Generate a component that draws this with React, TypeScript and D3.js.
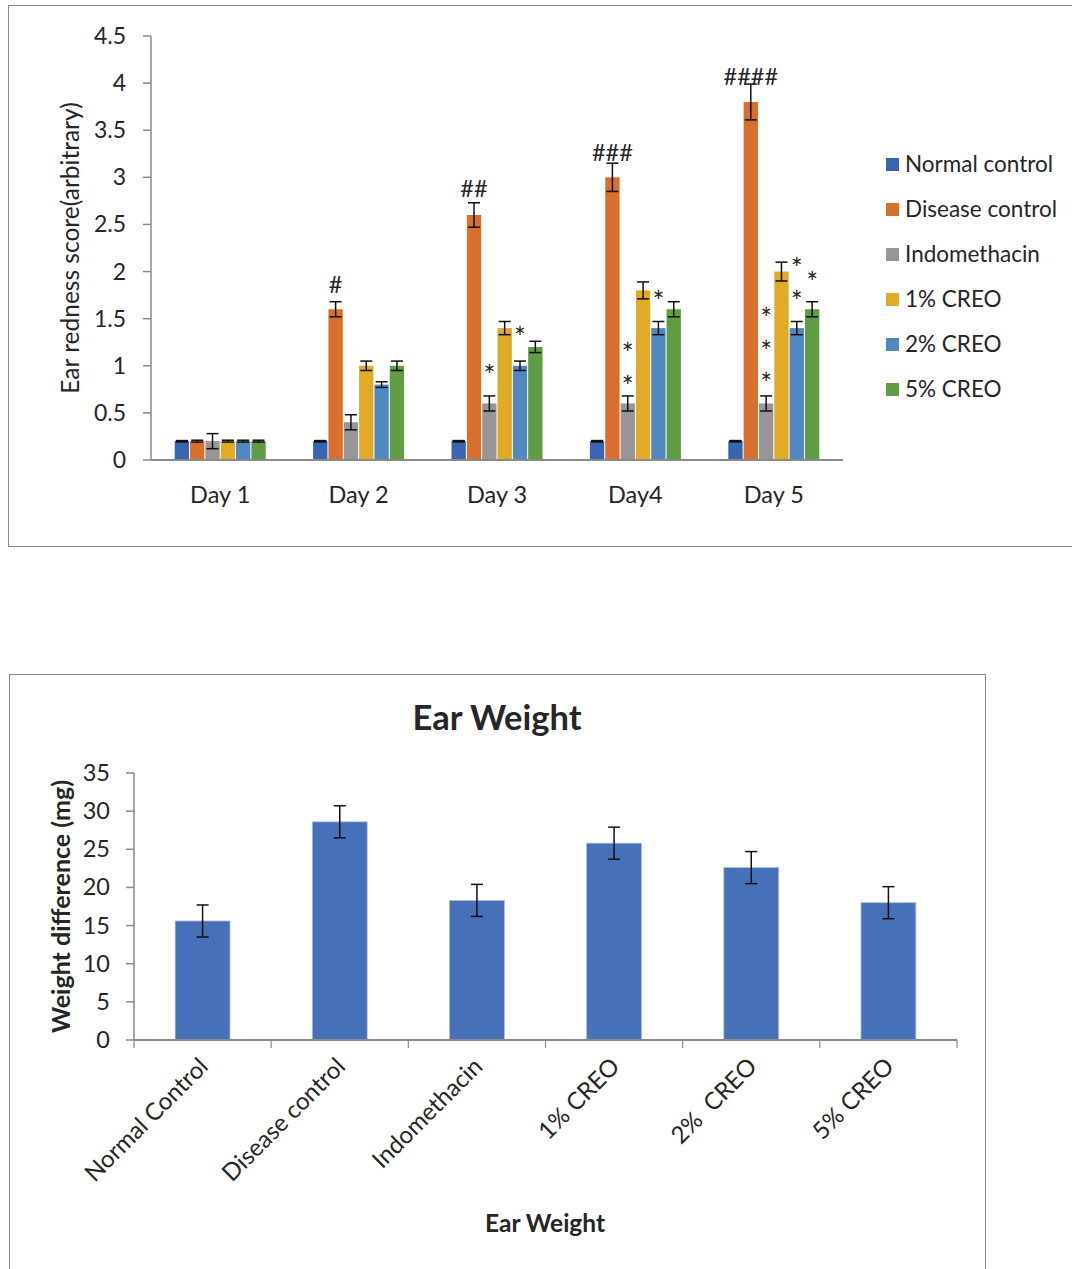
import React from "react";
import * as d3 from "d3";

// ---------- Top chart data ----------
const days = ["Day 1", "Day 2", "Day 3", "Day4", "Day 5"];
const groups = ["Normal control", "Disease control", "Indomethacin", "1% CREO", "2% CREO", "5% CREO"];
const groupColors = ["#3765b1", "#d86f2c", "#969696", "#e1aa27", "#4f89c0", "#609c41"];
const normalControl = [0.2, 0.2, 0.2, 0.2, 0.2];
const diseaseControl = [0.2, 1.6, 2.6, 3.0, 3.8];
const indomethacin = [0.2, 0.4, 0.6, 0.6, 0.6];
const creo1 = [0.2, 1.0, 1.4, 1.8, 2.0];
const creo2 = [0.2, 0.8, 1.0, 1.4, 1.4];
const creo5 = [0.2, 1.0, 1.2, 1.6, 1.6];
const errNormal = [0, 0, 0, 0, 0];
const errDisease = [0.01, 0.08, 0.13, 0.15, 0.19];
const errIndo = [0.08, 0.08, 0.08, 0.08, 0.08];
const err1 = [0.01, 0.05, 0.07, 0.09, 0.1];
const err2 = [0.01, 0.03, 0.05, 0.07, 0.07];
const err5 = [0.01, 0.05, 0.06, 0.08, 0.08];
const redTicks = [0, 0.5, 1, 1.5, 2, 2.5, 3, 3.5, 4, 4.5];
// annotations: [dayIndex, groupIndex, label, y value of label centre]
const hashMarks: [number, number, string, number][] = [
  [1, 1, "#", 1.87],
  [2, 1, "##", 2.89],
  [3, 1, "###", 3.27],
  [4, 1, "####", 4.08],
];
const starMarks: [number, number, number][] = [
  [2, 2, 0.95],
  [2, 4, 1.35],
  [3, 2, 1.18],
  [3, 2, 0.83],
  [3, 4, 1.74],
  [4, 2, 1.55],
  [4, 2, 1.2],
  [4, 2, 0.86],
  [4, 4, 2.09],
  [4, 4, 1.74],
  [4, 5, 1.94],
];

// ---------- Bottom chart data ----------
const weightCats = ["Normal Control", "Disease control", "Indomethacin", "1% CREO", "2%  CREO", "5% CREO"];
const weightVals = [15.6, 28.6, 18.3, 25.8, 22.6, 18.0];
const weightErr = [2.1, 2.1, 2.1, 2.1, 2.1, 2.1];
const weightTicks = [0, 5, 10, 15, 20, 25, 30, 35];

const FONT = "Lato, 'Open Sans', sans-serif";
const TXT = "#262626";
const AX = "#8a8a8a";

export default function App() {
  const series = [normalControl, diseaseControl, indomethacin, creo1, creo2, creo5];
  const errs = [errNormal, errDisease, errIndo, err1, err2, err5];

  // top scales
  const x0 = d3.scaleBand<string>().domain(days).range([151, 843]).padding(0);
  const groupWidth = 92;
  const x1 = d3.scaleBand<string>().domain(groups).range([0, groupWidth]).padding(0);
  const y = d3.scaleLinear().domain([0, 4.5]).range([460, 36]);
  const gx = (di: number) => (x0(days[di]) as number) + x0.bandwidth() / 2 - groupWidth / 2;

  // bottom scales
  const bx = d3.scaleBand<string>().domain(weightCats).range([134, 957]).paddingInner(0.6).paddingOuter(0.3);
  const by = d3.scaleLinear().domain([0, 35]).range([1040, 773]);
  const step = bx.step();

  const cap = 6;

  return (
    <svg width={1072} height={1269} style={{ position: "absolute", left: 0, top: 0, background: "#fff" }} fontFamily={FONT}>
      <rect x={0} y={0} width={1072} height={1269} fill="#fff" />
      {/* ---------- top chart ---------- */}
      <rect x={8.5} y={5.5} width={1070} height={541} fill="none" stroke={AX} strokeWidth={1} />
      {/* y axis */}
      <line x1={151} x2={151} y1={y(4.5)} y2={y(0)} stroke={AX} strokeWidth={1.5} />
      {redTicks.map((t) => (
        <g key={"rt" + t}>
          <line x1={143} x2={151} y1={y(t)} y2={y(t)} stroke={AX} strokeWidth={1.5} />
          <text x={126} y={y(t) + 8} textAnchor="end" fontSize={23} fill={TXT}>{t}</text>
        </g>
      ))}
      <text transform={`translate(79,${y(2.25)}) rotate(-90)`} textAnchor="middle" fontSize={24.5} fill={TXT}>
        Ear redness score(arbitrary)
      </text>
      {/* bars */}
      {days.map((d, di) => (
        <g key={d}>
          {groups.map((g, gi) => {
            const v = series[gi][di];
            const e = errs[gi][di];
            const bx0 = gx(di) + (x1(g) as number);
            const cx = bx0 + x1.bandwidth() / 2;
            return (
              <g key={g}>
                <rect x={bx0 + 0.5} y={y(v)} width={x1.bandwidth() - 1} height={y(0) - y(v)} fill={groupColors[gi]} />
                <line x1={cx} x2={cx} y1={y(v + e)} y2={y(v - e)} stroke="#111" strokeWidth={1.5} />
                <line x1={cx - cap} x2={cx + cap} y1={y(v + e)} y2={y(v + e)} stroke="#111" strokeWidth={e === 0 ? 2.5 : 1.5} />
                <line x1={cx - cap} x2={cx + cap} y1={y(v - e)} y2={y(v - e)} stroke="#111" strokeWidth={e === 0 ? 2.5 : 1.5} />
              </g>
            );
          })}
          <text x={(x0(d) as number) + x0.bandwidth() / 2} y={503} textAnchor="middle" fontSize={23.5} fill={TXT}>{d}</text>
        </g>
      ))}
      <line x1={151} x2={843} y1={y(0)} y2={y(0)} stroke={AX} strokeWidth={2} />
      {hashMarks.map(([di, gi, lab, v], i) => (
        <text key={"h" + i} x={gx(di) + (x1(groups[gi]) as number) + x1.bandwidth() / 2} y={y(v) + 9}
          textAnchor="middle" fontSize={23.5} fill={TXT}>{lab}</text>
      ))}
      {starMarks.map(([di, gi, v], i) => (
        <text key={"s" + i} x={gx(di) + (x1(groups[gi]) as number) + x1.bandwidth() / 2} y={y(v) + 15.5}
          textAnchor="middle" fontSize={28} fill={TXT}>*</text>
      ))}
      {/* legend */}
      {groups.map((g, gi) => (
        <g key={"lg" + g} transform={`translate(886,${164 + gi * 45})`}>
          <rect x={0} y={-6} width={13} height={13} fill={groupColors[gi]} />
          <text x={19} y={8} fontSize={22.5} fill={TXT}>{g}</text>
        </g>
      ))}

      {/* ---------- bottom chart ---------- */}
      <rect x={9.5} y={674.5} width={976} height={620} fill="none" stroke={AX} strokeWidth={1} />
      <text x={497} y={730} textAnchor="middle" fontSize={34.5} fontWeight="bold" fill={TXT}>Ear Weight</text>
      <line x1={134} x2={134} y1={by(35)} y2={by(0)} stroke={AX} strokeWidth={1.5} />
      {weightTicks.map((t) => (
        <g key={"wt" + t}>
          <line x1={126} x2={134} y1={by(t)} y2={by(t)} stroke={AX} strokeWidth={1.5} />
          <text x={110} y={by(t) + 8} textAnchor="end" fontSize={23.5} fill={TXT}>{t}</text>
        </g>
      ))}
      <text transform={`translate(70,${by(17.5)}) rotate(-90)`} textAnchor="middle" fontSize={25} fontWeight="bold" fill={TXT}>
        Weight difference (mg)
      </text>
      {weightCats.map((c, i) => {
        const v = weightVals[i];
        const e = weightErr[i];
        const x = bx(c) as number;
        const cx = x + bx.bandwidth() / 2;
        return (
          <g key={c}>
            <rect x={x} y={by(v)} width={bx.bandwidth()} height={by(0) - by(v)} fill="#4670b8" stroke="#a9bde0" strokeWidth={0.8} />
            <line x1={cx} x2={cx} y1={by(v + e)} y2={by(v - e)} stroke="#111" strokeWidth={1.5} />
            <line x1={cx - 6} x2={cx + 6} y1={by(v + e)} y2={by(v + e)} stroke="#111" strokeWidth={1.5} />
            <line x1={cx - 6} x2={cx + 6} y1={by(v - e)} y2={by(v - e)} stroke="#111" strokeWidth={1.5} />
            <text transform={`translate(${cx + 7},${1068}) rotate(-45)`} textAnchor="end" fontSize={24} fill={TXT}
              style={{ whiteSpace: "pre" }}>{c}</text>
          </g>
        );
      })}
      <line x1={134} x2={957} y1={by(0)} y2={by(0)} stroke={AX} strokeWidth={2} />
      {d3.range(weightCats.length + 1).map((i) => (
        <line key={"xt" + i} x1={134 + i * step} x2={134 + i * step} y1={by(0)} y2={by(0) + 8} stroke={AX} strokeWidth={1.2} />
      ))}
      <text x={545} y={1232} textAnchor="middle" fontSize={24.5} fontWeight="bold" fill={TXT}>Ear Weight</text>
    </svg>
  );
}
